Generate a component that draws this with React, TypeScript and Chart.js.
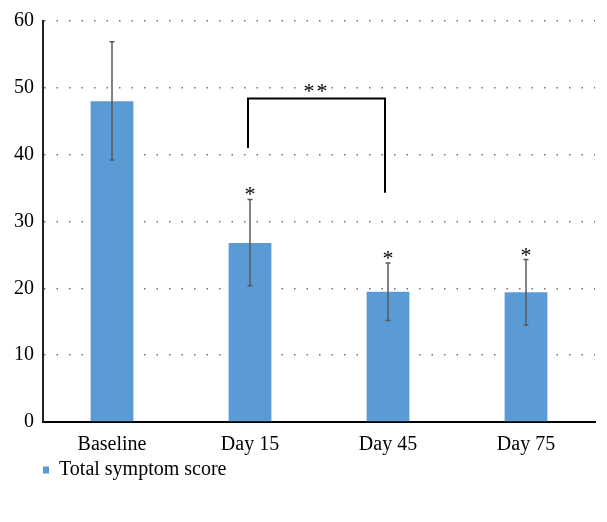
import React, { useEffect, useRef } from "react";
import { Chart, registerables } from "chart.js";

Chart.register(...registerables);

const categories = ["Baseline", "Day 15", "Day 45", "Day 75"];
const seriesName = "Total symptom score";
const values = [48.0, 26.8, 19.5, 19.4];
const errorHigh = [56.9, 33.3, 23.8, 24.3];
const errorLow = [39.2, 20.4, 15.2, 14.5];
const starMarks = ["", "*", "*", "*"];
const yMin = 0;
const yMax = 60;
const yStep = 10;
// significance bracket between Day 15 and Day 45
const bracketFrom = 1;
const bracketTo = 2;
const bracketTop = 48.4;
const bracketLeftEnd = 41.0;
const bracketRightEnd = 34.3;
const bracketLabel = "**";

const FONT = "'Liberation Serif', 'DejaVu Serif', serif";

const annotations = {
  id: "annotations",
  afterDatasetsDraw(chart: any) {
    const ctx = chart.ctx;
    const x = chart.scales.x;
    const y = chart.scales.y;
    ctx.save();
    // error bars
    ctx.strokeStyle = "#5a5a5a";
    ctx.lineWidth = 1.5;
    for (let i = 0; i < values.length; i++) {
      const cx = x.getPixelForValue(i);
      const yt = y.getPixelForValue(errorHigh[i]);
      const yb = y.getPixelForValue(errorLow[i]);
      ctx.beginPath();
      ctx.moveTo(cx, yt);
      ctx.lineTo(cx, yb);
      ctx.moveTo(cx - 2.5, yt);
      ctx.lineTo(cx + 2.5, yt);
      ctx.moveTo(cx - 2.5, yb);
      ctx.lineTo(cx + 2.5, yb);
      ctx.stroke();
    }
    // stars
    ctx.fillStyle = "#000";
    ctx.font = `22px ${FONT}`;
    ctx.textAlign = "center";
    ctx.textBaseline = "alphabetic";
    for (let i = 0; i < values.length; i++) {
      if (!starMarks[i]) continue;
      const cx = x.getPixelForValue(i);
      const yt = y.getPixelForValue(errorHigh[i]);
      ctx.fillText(starMarks[i], cx, yt + 2);
    }
    // bracket
    const lx = x.getPixelForValue(bracketFrom) - 2;
    const rx = x.getPixelForValue(bracketTo) - 3;
    const ty = y.getPixelForValue(bracketTop);
    ctx.strokeStyle = "#000";
    ctx.lineWidth = 2;
    ctx.beginPath();
    ctx.moveTo(lx, y.getPixelForValue(bracketLeftEnd));
    ctx.lineTo(lx, ty);
    ctx.lineTo(rx, ty);
    ctx.lineTo(rx, y.getPixelForValue(bracketRightEnd));
    ctx.stroke();
    ctx.font = `22px ${FONT}`;
    ctx.letterSpacing = "2px";
    ctx.fillText(bracketLabel, (lx + rx) / 2, ty - 1);
    ctx.restore();
  },
};

export default function App() {
  const ref = useRef<HTMLCanvasElement>(null);
  useEffect(() => {
    document.body.style.margin = "0";
    const chart = new Chart(ref.current!, {
      type: "bar",
      data: {
        labels: categories,
        datasets: [
          {
            label: seriesName,
            data: values,
            backgroundColor: "#5b9bd5",
            borderWidth: 0,
            barPercentage: 0.31,
            categoryPercentage: 1,
          },
        ],
      },
      options: {
        animation: false,
        responsive: true,
        maintainAspectRatio: false,
        layout: { padding: { left: 0, right: 12, top: 21, bottom: 32 } },
        plugins: {
          tooltip: { enabled: false },
          legend: {
            position: "bottom",
            align: "start",
            fullSize: false,
            labels: {
              boxWidth: 6,
              boxHeight: 7,
              padding: 0,
              color: "#000",
              font: { family: FONT, size: 20, lineHeight: 1 },
            },
          },
        },
        scales: {
          x: {
            grid: { display: false },
            border: { display: true, color: "#000", width: 2 },
            ticks: { color: "#000", font: { family: FONT, size: 20, lineHeight: 1.1 }, padding: 4 },
          },
          y: {
            min: yMin,
            max: yMax,
            afterFit: (s: any) => {
              s.width = 43;
            },
            grid: {
              color: (c: any) => (c.tick && c.tick.value === 0 ? "rgba(0,0,0,0)" : "#707070"),
              lineWidth: 1.5,
              drawTicks: false,
            },
            border: { display: true, color: "#222", width: 2, dash: [1.5, 11] },
            ticks: { stepSize: yStep, color: "#000", font: { family: FONT, size: 20 }, padding: 9 },
          },
        },
      },
      plugins: [annotations],
    });
    return () => chart.destroy();
  }, []);
  return (
    <div style={{ width: 607, height: 522, position: "relative" }}>
      <canvas ref={ref} />
    </div>
  );
}
